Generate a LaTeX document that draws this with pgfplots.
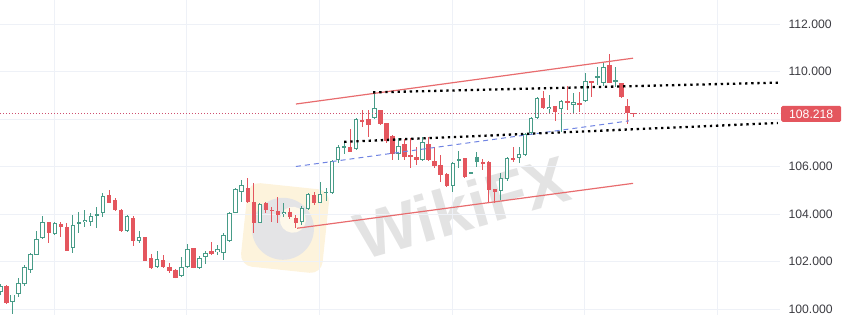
\documentclass[border=0pt]{standalone}
\usepackage{fontspec}
\setmainfont{Liberation Sans}
\usepackage{pgfplots}
\usepackage{pgfplotstable}
\pgfplotsset{compat=1.18}
\definecolor{cgreen}{RGB}{72,156,136}
\definecolor{cred}{RGB}{228,86,94}
\definecolor{pline}{RGB}{206,80,112}
\definecolor{gridc}{RGB}{238,241,247}
\definecolor{labc}{RGB}{60,60,66}
\definecolor{chan}{RGB}{232,108,110}
\definecolor{blued}{RGB}{112,132,226}
\definecolor{wmy}{RGB}{253,243,220}
\definecolor{wmg}{RGB}{228,228,230}

\pgfplotstableread{
i o h l c t
0 100.73 101.05 100.60 100.96 0
1 100.96 101.00 100.21 100.26 1
2 100.31 100.61 99.81 100.61 0
3 100.63 101.29 100.49 101.08 0
4 101.05 101.85 100.96 101.75 0
5 101.64 102.37 101.53 102.31 0
6 102.26 103.30 102.26 102.93 0
7 102.97 103.91 102.93 103.65 0
8 103.65 103.65 102.79 103.18 1
9 103.14 103.68 103.11 103.61 0
10 103.58 103.68 103.04 103.46 1
11 103.45 103.60 102.45 102.45 1
12 102.55 103.96 102.37 103.52 0
13 103.58 104.10 103.21 103.66 0
14 103.66 104.17 103.46 103.75 0
15 103.68 104.03 103.49 103.91 0
16 103.91 104.31 103.39 103.98 0
17 104.03 104.90 103.86 104.76 0
18 104.80 105.01 104.48 104.48 1
19 104.59 104.66 104.14 104.17 1
20 104.17 104.19 103.25 103.30 1
21 103.30 103.96 103.25 103.91 0
22 103.82 103.91 102.66 102.87 1
23 102.87 103.30 102.76 103.02 0
24 103.02 103.02 102.03 102.03 1
25 102.13 102.31 101.67 101.71 1
26 101.75 102.45 101.71 102.09 0
27 102.06 102.27 101.71 101.75 1
28 101.75 101.95 101.53 101.61 1
29 101.64 101.67 101.29 101.29 1
30 101.39 102.17 101.36 101.75 0
31 101.75 102.73 101.71 102.51 0
32 102.55 102.55 101.71 101.71 1
33 101.71 102.23 101.67 102.13 0
34 102.17 102.45 101.89 102.37 0
35 102.45 102.82 102.27 102.31 1
36 102.39 102.69 102.27 102.51 0
37 102.37 103.19 102.06 103.10 0
38 102.88 104.10 102.84 104.06 0
39 104.06 105.08 104.03 105.04 0
40 104.94 105.43 104.52 105.21 0
41 105.08 105.50 104.48 104.52 1
42 104.52 105.29 103.19 103.61 1
43 103.64 104.48 103.61 104.41 0
44 104.45 104.52 104.03 104.17 1
45 104.17 104.31 103.68 104.13 1
46 104.14 104.70 103.61 103.96 1
47 103.99 104.48 103.86 104.10 0
48 104.10 104.24 103.78 103.86 1
49 103.82 103.96 103.40 103.64 1
50 103.68 104.34 103.54 104.24 0
51 104.20 104.90 104.17 104.84 0
52 104.80 104.94 104.38 104.45 1
53 104.48 105.36 104.45 104.84 0
54 104.90 105.08 104.56 104.94 0
55 104.87 106.27 104.84 106.25 0
56 106.27 106.90 106.13 106.83 0
57 106.79 107.05 106.53 106.86 0
58 106.83 107.57 106.62 106.62 1
59 106.72 108.03 106.69 107.99 0
60 107.96 108.38 107.68 107.89 1
61 107.99 108.38 107.26 107.75 1
62 108.03 109.11 107.99 108.45 0
63 108.38 108.38 107.75 107.77 1
64 107.82 107.85 106.97 107.09 1
65 107.28 107.33 106.27 106.53 1
66 106.53 107.19 106.27 106.86 0
67 106.95 107.14 106.27 106.39 1
68 106.48 107.19 105.92 106.39 1
69 106.39 106.83 106.06 106.27 1
70 106.27 107.23 106.24 107.03 0
71 106.95 107.26 106.24 106.27 1
72 106.25 106.81 105.92 106.00 1
73 106.06 106.48 105.35 105.66 1
74 105.68 105.74 105.12 105.18 1
75 105.18 106.20 104.92 106.13 0
76 106.25 106.65 105.92 106.31 0
77 106.34 106.34 105.54 105.55 1
78 105.74 105.76 105.72 105.74 0
79 106.38 106.62 105.99 106.20 2
80 106.20 106.30 105.85 106.10 1
81 106.20 106.25 104.48 105.01 1
82 105.04 105.04 104.48 104.94 1
83 104.98 105.71 104.59 105.50 0
84 105.46 106.38 105.40 106.34 0
85 106.34 106.81 106.20 106.27 1
86 106.34 106.81 106.16 106.53 0
87 106.48 107.40 106.44 107.37 0
88 107.40 108.10 107.33 108.03 0
89 108.03 108.94 107.99 108.87 0
90 108.87 109.19 108.41 108.45 1
91 108.41 109.01 108.24 108.52 0
92 108.55 108.55 107.93 108.31 1
93 108.41 108.80 107.47 108.76 0
94 108.76 109.39 108.38 108.69 1
95 108.59 109.11 108.21 108.73 0
96 108.69 109.15 108.31 108.59 1
97 108.77 109.92 108.73 109.61 0
98 109.61 109.61 108.91 109.54 1
99 109.81 110.20 109.43 109.71 2
100 109.53 110.34 109.39 110.20 0
101 110.27 110.74 109.50 109.50 1
102 109.64 110.20 109.36 109.60 2
103 109.50 109.50 108.87 108.91 1
104 108.55 108.83 107.79 108.25 1
105 108.25 108.26 108.10 108.218 1
}\candles

\pgfplotsset{
  wick/.style={draw=none, forget plot, restrict expr to domain={\thisrow{t}}{#1:#1},
    error bars/.cd, y dir=both, y explicit, error mark=none},
  vgrid/.style={gridc, line width=0.9pt, forget plot},
}

\begin{document}
\begin{tikzpicture}
\useasboundingbox (0pt,0pt) rectangle (846pt,315pt);
% watermark
\fill[wmy, rounded corners=12pt, rotate around={-6:(285pt,87pt)}] (244pt,45pt) rectangle (326pt,129pt);
\fill[wmg, rotate around={-6:(285pt,87pt)}] (283pt,86pt) circle[radius=31pt];
\fill[wmy!60!white, rotate around={-6:(285pt,87pt)}] (292pt,96pt) circle[radius=13pt];
\node[rotate=16, text=black!11, font=\fontsize{66}{70}\selectfont\bfseries] at (462pt,108pt) {WikiFX};
\begin{axis}[
  at={(0pt,0pt)}, anchor=south west,
  width=780pt, height=315pt, scale only axis,
  xmin=-0.08, xmax=129.27, ymin=99.747, ymax=113.01,
  axis line style={draw=none}, major tick length=0pt, tick style={draw=none},
  xtick=\empty,
  ytick={100,102,104,106,110,112}, yticklabel pos=right,
  scaled y ticks=false,
  ymajorgrids, major grid style={draw=gridc, line width=0.9pt},
  yticklabel style={font=\fontsize{12.2}{14}\selectfont, text=labc, anchor=west, xshift=5pt,
    /pgf/number format/.cd, fixed, fixed zerofill, precision=3, 1000 sep={}, assume math mode=true},
]
% vertical grid lines and the 108 line
\addplot[vgrid] coordinates {(8.9,99) (8.9,114)};
\addplot[vgrid] coordinates {(30.9,99) (30.9,114)};
\addplot[vgrid] coordinates {(52.9,99) (52.9,114)};
\addplot[vgrid] coordinates {(74.9,99) (74.9,114)};
\addplot[vgrid] coordinates {(96.9,99) (96.9,114)};
\addplot[vgrid] coordinates {(118.9,99) (118.9,114)};
\addplot[vgrid] coordinates {(-1,108) (130,108)};
% green hollow
\addplot[wick=0, error bar style={draw=cgreen, line width=1pt}]
  table[x=i, y=c, y error plus expr=\thisrow{h}-\thisrow{c}, y error minus expr=\thisrow{c}-\thisrow{l}] {\candles};
\addplot[wick=0, error bar style={draw=cgreen, line width=4.4pt}]
  table[x=i, y expr=(\thisrow{o}+\thisrow{c})/2, y error expr={max(abs(\thisrow{c}-\thisrow{o})/2,0.026)}] {\candles};
\addplot[wick=0, error bar style={draw=white, line width=2.4pt}]
  table[x=i, y expr=(\thisrow{o}+\thisrow{c})/2, y error expr={max(abs(\thisrow{c}-\thisrow{o})/2-0.042,0)}] {\candles};
% red filled
\addplot[wick=1, error bar style={draw=cred, line width=1pt}]
  table[x=i, y=c, y error plus expr=\thisrow{h}-\thisrow{c}, y error minus expr=\thisrow{c}-\thisrow{l}] {\candles};
\addplot[wick=1, error bar style={draw=cred, line width=4.4pt}]
  table[x=i, y expr=(\thisrow{o}+\thisrow{c})/2, y error expr={max(abs(\thisrow{c}-\thisrow{o})/2,0.026)}] {\candles};
% green filled
\addplot[wick=2, error bar style={draw=cgreen, line width=1pt}]
  table[x=i, y=c, y error plus expr=\thisrow{h}-\thisrow{c}, y error minus expr=\thisrow{c}-\thisrow{l}] {\candles};
\addplot[wick=2, error bar style={draw=cgreen, line width=4.4pt}]
  table[x=i, y expr=(\thisrow{o}+\thisrow{c})/2, y error expr={max(abs(\thisrow{c}-\thisrow{o})/2,0.026)}] {\candles};
% last price line
\addplot[pline, line width=1.1pt, dash pattern=on 1.1pt off 1.9pt] coordinates {(-0.08,108.218) (129.27,108.218)};
% channel
\addplot[chan, line width=1.2pt] coordinates {(49.0,108.63) (104.9,110.56)};
\addplot[chan, line width=1.2pt] coordinates {(49.2,103.40) (104.9,105.29)};
\addplot[blued, line width=1pt, dash pattern=on 5pt off 4pt] coordinates {(49.0,106.00) (104.2,107.92)};
% dotted support / resistance
\addplot[black, line width=2.3pt, dash pattern=on 2.3pt off 3.8pt] coordinates {(61.8,109.12) (128.9,109.53)};
\addplot[black, line width=2.3pt, dash pattern=on 2.3pt off 3.8pt] coordinates {(57.0,107.04) (128.9,107.83)};
\coordinate (lab) at (axis cs:129.27,108.218);
\end{axis}
\node[fill=cred, text=white, anchor=west, rounded corners=1.5pt, minimum height=16pt, minimum width=60pt, inner sep=0pt,
  font=\fontsize{12.2}{14}\selectfont] at ([xshift=1pt]lab) {108.218};
\end{tikzpicture}
\end{document}
